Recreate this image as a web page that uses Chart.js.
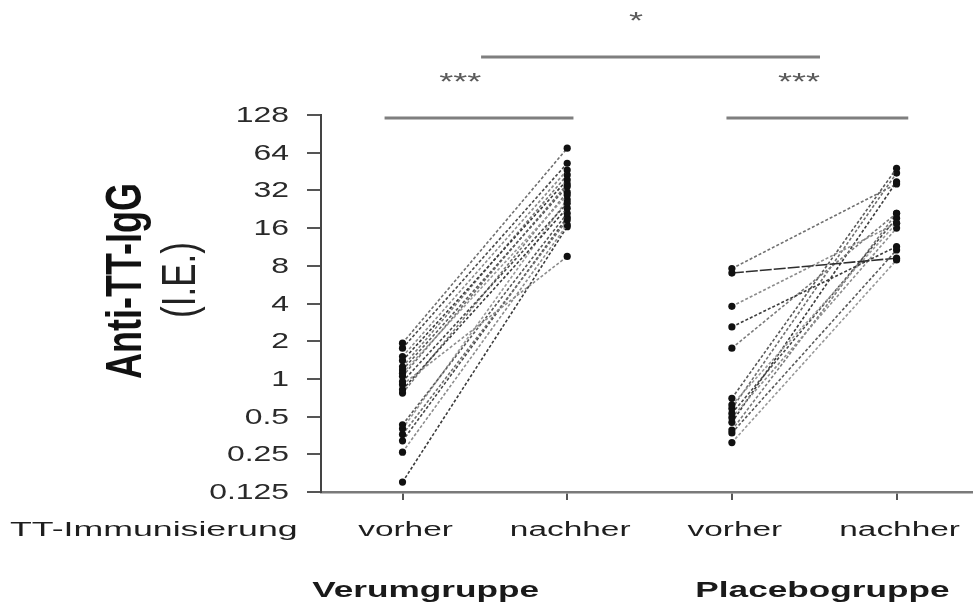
<!DOCTYPE html>
<html>
<head>
<meta charset="utf-8">
<script src="https://cdn.jsdelivr.net/npm/chart.js@4.4.1/dist/chart.umd.min.js"></script>
<style>
  html, body { margin: 0; padding: 0; background: #fff; }
  #wrap { width: 976px; height: 604px; position: relative; }
</style>
</head>
<body>
<div id="wrap"><canvas id="igg"></canvas></div>
<script>
// ========== DATA ==========
const categories = ['vorher', 'nachher', 'vorher', 'nachher'];
const groupNames = ['Verumgruppe', 'Placebogruppe'];
const rowLabel = 'TT-Immunisierung';
const yTicks = [0.125, 0.25, 0.5, 1, 2, 4, 8, 16, 32, 64, 128];

// Anti-TT-IgG (I.E.) per subject, before / after immunisation
const verumVorher  = [1.93, 1.76, 1.51, 1.40, 1.25, 1.18, 1.11, 1.05, 0.95, 0.90, 0.82, 0.77, 0.43, 0.40, 0.36, 0.32, 0.26, 0.15];
const verumNachher = [69.5, 52.7, 46.5, 38.8, 42.5, 34.3, 29.4, 36.0, 25.3, 9.5, 23.1, 31.0, 21.0, 27.0, 18.6, 19.5, 17.0, 16.4];
const placeboVorher  = [7.6, 7.0, 3.8, 2.6, 1.76, 0.70, 0.62, 0.58, 0.53, 0.49, 0.45, 0.39, 0.37, 0.31];
const placeboNachher = [36.0, 9.2, 17.5, 11.4, 21.0, 48.0, 17.5, 44.0, 19.2, 16.0, 37.5, 21.0, 10.7, 8.9];

// significance brackets: [from, to] in category units, level in I.E.
const brackets = [
    { from: 0.891, to: 2.038, level: 121, text: '***', textAt: 1.35, textLevel: 258 },
    { from: 2.967, to: 4.071, level: 121, text: '***', textAt: 3.408, textLevel: 258 },
    { from: 1.477, to: 3.535, level: 372, text: '*', textAt: 2.418, textLevel: 792 }
];
// where the group names sit, in category units
const groupCenters = [1.14, 3.55];

// ========== STYLE ==========
const FONT = '"Liberation Sans", Arial, Helvetica, sans-serif';
const lineGreys = ['#707070', '#4a4a4a', '#8c8c8c', '#3c3c3c', '#7a7a7a', '#5a5a5a', '#999999'];

function pairSets(pre, post, xPre) {
    return pre.map((v, i) => ({
        data: [{ x: xPre, y: v }, { x: xPre + 1, y: post[i] }],
        borderColor: lineGreys[i % lineGreys.length],
        borderWidth: 1.6,
        borderDash: [3, 2],
        pointRadius: 3.6,
        pointBackgroundColor: '#111',
        pointBorderColor: '#111',
        pointBorderWidth: 0
    }));
}

const datasets = pairSets(verumVorher, verumNachher, 1).concat(pairSets(placeboVorher, placeboNachher, 3));
// the flat placebo pair is drawn darker and almost solid
datasets[verumVorher.length + 1].borderColor = '#2e2e2e';
datasets[verumVorher.length + 1].borderDash = [12, 2];

// draws text stretched sideways
function stretchedText(ctx, text, x, y, font, sx, align, color, baseline) {
    ctx.save();
    ctx.translate(x, y);
    ctx.scale(sx, 1);
    ctx.font = font;
    ctx.fillStyle = color;
    ctx.textAlign = align;
    ctx.textBaseline = baseline || 'alphabetic';
    ctx.fillText(text, 0, 0);
    ctx.restore();
}

function verticalText(ctx, text, x, y, font, sy, color) {
    ctx.save();
    ctx.translate(x, y);
    ctx.rotate(-Math.PI / 2);
    ctx.scale(1, sy);
    ctx.font = font;
    ctx.fillStyle = color;
    ctx.textAlign = 'center';
    ctx.textBaseline = 'alphabetic';
    ctx.fillText(text, 0, 0);
    ctx.restore();
}

const labelsPlugin = {
    id: 'labels',
    afterDraw(chart) {
        const ctx = chart.ctx;
        const xs = chart.scales.x, ys = chart.scales.y;

        // y tick labels
        ys.ticks.forEach(t => {
            stretchedText(ctx, String(t.value), 289, ys.getPixelForValue(t.value) + 1,
                '22px ' + FONT, 1.45, 'right', '#2a2a2a', 'middle');
        });

        // y title
        verticalText(ctx, 'Anti-TT-IgG', 141, 281, 'bold 36px ' + FONT, 1.4, '#111');
        verticalText(ctx, '(I.E.)', 195, 280, '35px ' + FONT, 1.38, '#222');

        // category row
        stretchedText(ctx, rowLabel, 10, 536, '21px ' + FONT, 1.7, 'left', '#1e1e1e');
        categories.forEach((c, i) => {
            stretchedText(ctx, c, xs.getPixelForValue(i + 1) + 3, 536, '20px ' + FONT, 1.67, 'center', '#1e1e1e');
        });

        // group names
        groupNames.forEach((g, i) => {
            stretchedText(ctx, g, xs.getPixelForValue(groupCenters[i]), 597, 'bold 22px ' + FONT, 1.6, 'center', '#1a1a1a');
        });

        // significance brackets
        ctx.save();
        ctx.strokeStyle = '#7f7f7f';
        ctx.lineWidth = 3;
        brackets.forEach(b => {
            const yPix = ys.getPixelForValue(b.level);
            ctx.beginPath();
            ctx.moveTo(xs.getPixelForValue(b.from), yPix);
            ctx.lineTo(xs.getPixelForValue(b.to), yPix);
            ctx.stroke();
            stretchedText(ctx, b.text, xs.getPixelForValue(b.textAt), ys.getPixelForValue(b.textLevel) + 13,
                '24px ' + FONT, 1.5, 'center', '#5a5a5a');
        });
        ctx.restore();
    }
};

// ========== CHART ==========
new Chart(document.getElementById('igg'), {
    type: 'line',
    data: { datasets },
    options: {
        responsive: true,
        maintainAspectRatio: false,
        animation: false,
        layout: { padding: { left: 291, top: 115, right: 0, bottom: 82 } },
        plugins: { legend: { display: false }, tooltip: { enabled: false } },
        scales: {
            x: {
                type: 'linear',
                min: 0.505,
                max: 4.458,
                afterBuildTicks: s => { s.ticks = categories.map((c, i) => ({ value: i + 1 })); },
                afterFit: s => { s.height = 30; },
                ticks: { display: false },
                grid: { drawOnChartArea: false, drawTicks: true, tickLength: 8, color: '#555', lineWidth: 2 },
                border: { display: true, color: '#7a7a7a', width: 2.5 }
            },
            y: {
                type: 'logarithmic',
                min: 0.125,
                max: 128,
                afterBuildTicks: s => { s.ticks = yTicks.map(v => ({ value: v })); },
                afterFit: s => { s.width = 30; },
                ticks: { display: false },
                grid: { drawOnChartArea: false, drawTicks: true, tickLength: 14, color: '#555', lineWidth: 2 },
                border: { display: true, color: '#444', width: 2 }
            }
        }
    },
    plugins: [labelsPlugin]
});
</script>
</body>
</html>
